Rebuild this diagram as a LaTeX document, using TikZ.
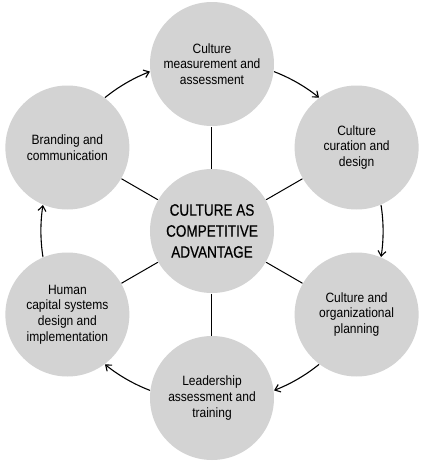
\documentclass[tikz,border=0pt]{standalone}
\usepackage{fontspec}
\setmainfont[FakeStretch=0.89]{Liberation Sans}
\newfontfamily\hubfont[FakeStretch=0.82, FakeBold=0.5]{Liberation Sans}
\usetikzlibrary{arrows.meta}
\definecolor{ringgray}{RGB}{211,211,211}

\begin{document}
\begin{tikzpicture}[
    x=1pt, y=1pt, line width=1pt,
    >={Straight Barb[length=1.8mm, width=2.8mm]},
    ring/.style={circle, fill=ringgray, minimum size=124pt, inner sep=0pt, align=center,
                 font=\fontsize{13.5}{15.7}\selectfont},
    hub/.style={ring, font=\hubfont\fontsize{16.5}{21}\selectfont},
    flow/.style={->, line width=1.1pt, looseness=0.85}
  ]
    \useasboundingbox (-212,-236) rectangle (215,231);

    % --- centre ---
    \node[hub] (cca) at (0,0) {CULTURE AS\\COMPETITIVE\\ADVANTAGE};

    % --- outer ring ---
    \node[ring] (meas)  at (90:167)  {Culture\\measurement and\\assessment};
    \node[ring] (cur)   at (30:167)  {Culture\\curation and\\design};
    \node[ring] (plan)  at (-30:167) {Culture and\\organizational\\planning};
    \node[ring] (lead)  at (-90:167) {Leadership\\assessment and\\training};
    \node[ring] (hcs)   at (210:167) {Human\\capital systems\\design and\\implementation};
    \node[ring] (brand) at (150:167) {Branding and\\communication};

    % spokes
    \foreach \n in {meas,cur,plan,lead,hcs,brand}
      \draw (cca) -- (\n);

    % clockwise cycle
    \draw[flow] (meas.-7)   to[out=-21,  in=141]  (cur.127);
    \draw[flow] (cur.-67)   to[out=-81,  in=81]   (plan.67);
    \draw[flow] (plan.-127) to[out=-141, in=21]   (lead.7);
    \draw[flow] (lead.173)  to[out=159,  in=-39]  (hcs.-53);
    \draw[flow] (hcs.113)   to[out=99,   in=-99]  (brand.-113);
    \draw[flow] (brand.53)  to[out=39,   in=-159] (meas.-173);
\end{tikzpicture}
\end{document}
